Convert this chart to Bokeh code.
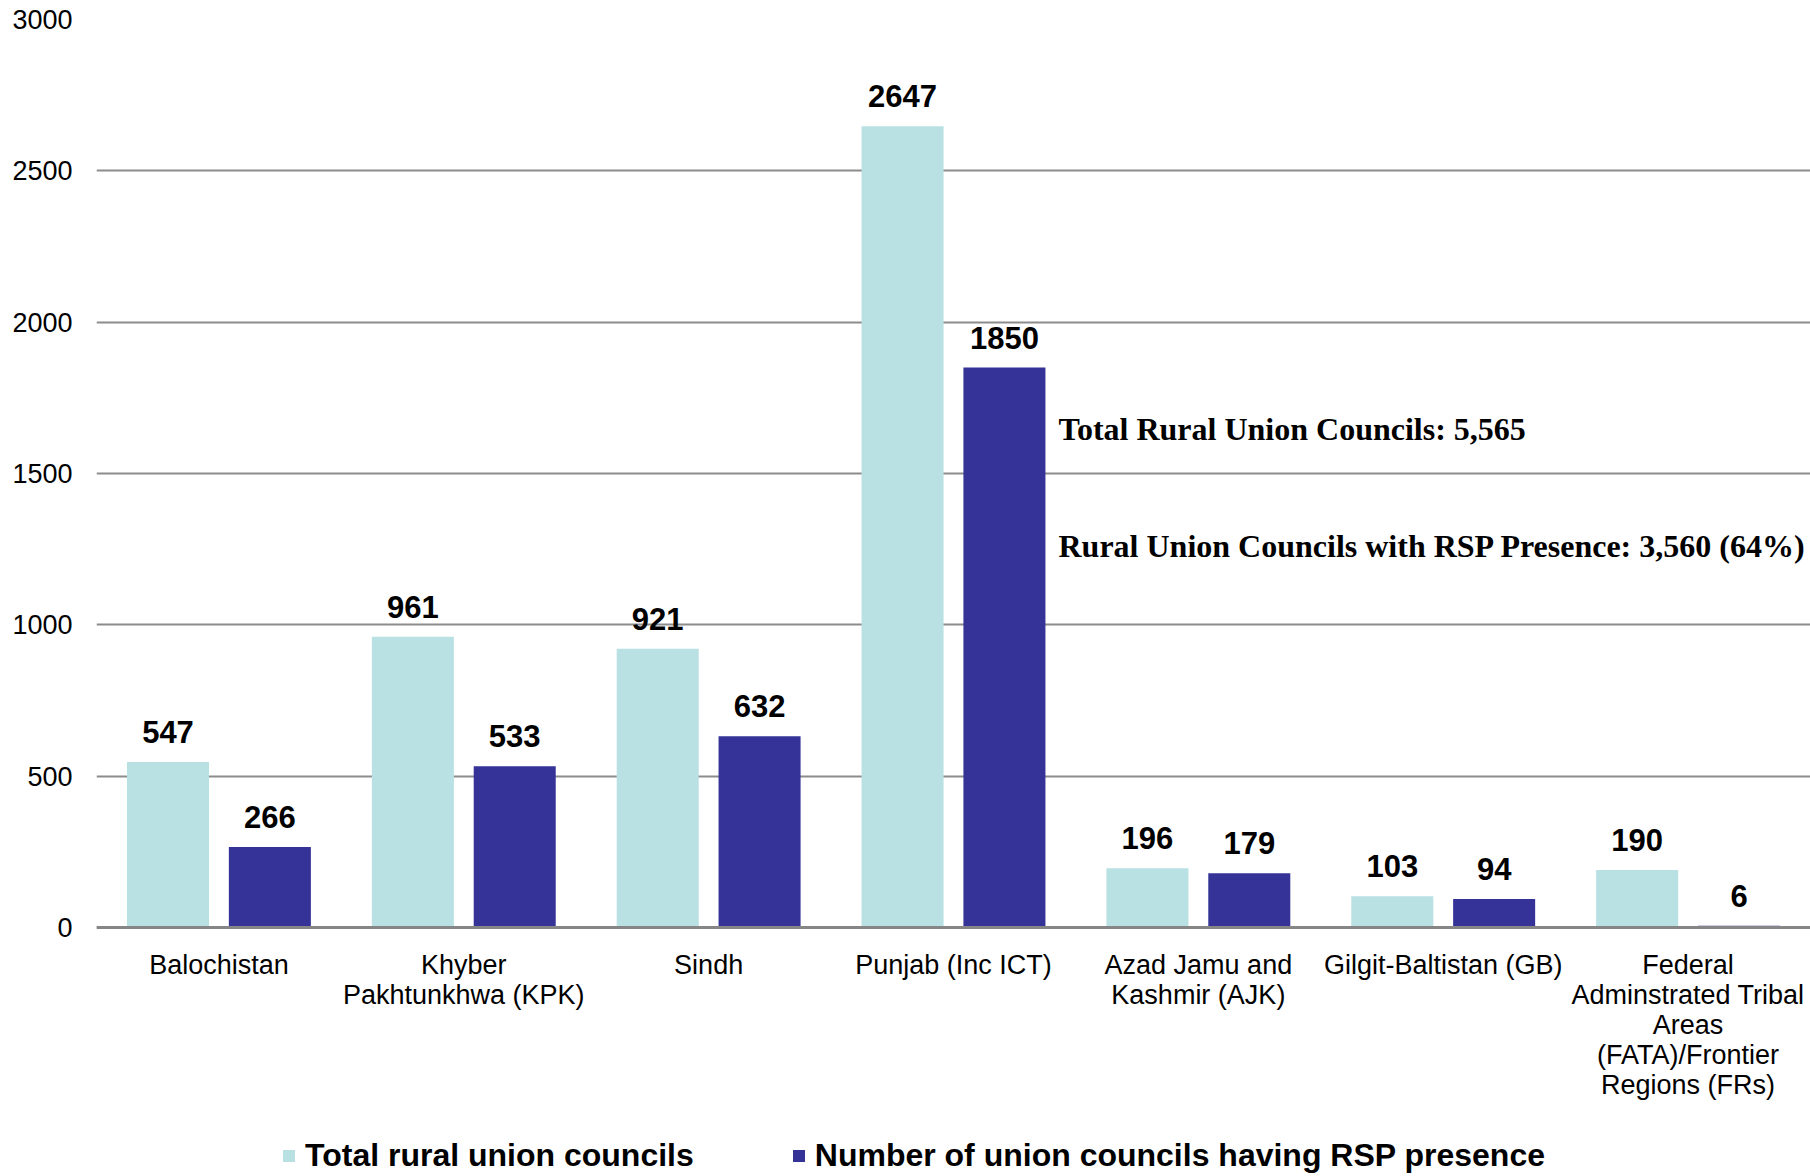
from bokeh.plotting import figure
from bokeh.models import (ColumnDataSource, FactorRange, FixedTicker, Legend, LegendItem,
                          Label, Range1d)
from bokeh.transform import dodge
from bokeh.core.properties import value
from bokeh.embed import file_html
from bokeh.resources import INLINE

categories = [
    "Balochistan",
    "Khyber\nPakhtunkhwa (KPK)",
    "Sindh",
    "Punjab (Inc ICT)",
    "Azad Jamu and\nKashmir (AJK)",
    "Gilgit-Baltistan (GB)",
    "Federal\nAdminstrated Tribal\nAreas\n(FATA)/Frontier\nRegions (FRs)",
]
total_rural = [547, 961, 921, 2647, 196, 103, 190]
rsp_presence = [266, 533, 632, 1850, 179, 94, 6]
series_names = ["Total rural union councils", "Number of union councils having RSP presence"]
y_ticks = [0, 500, 1000, 1500, 2000, 2500, 3000]
note_total = "Total Rural Union Councils: 5,565"
note_rsp = "Rural Union Councils with RSP Presence: 3,560 (64%)"

LIGHT = "#B9E0E2"
DARK = "#353398"

src = ColumnDataSource(dict(
    cat=categories,
    total=total_rural,
    rsp=rsp_presence,
    total_txt=[str(v) for v in total_rural],
    rsp_txt=[str(v) for v in rsp_presence],
))

# frame runs to the page bottom; the value axis spans 908 px for 0..3000,
# the space below zero holds category labels and the legend
px_per_unit = 908 / 3000
y_bottom = -249 / px_per_unit

p = figure(frame_width=1714, frame_height=1157, x_range=FactorRange(*categories),
           y_range=Range1d(y_bottom, 3000), output_backend="svg", toolbar_location=None,
           min_border_left=96, min_border_right=0, min_border_top=19,
           min_border_bottom=0)
p.outline_line_color = None
p.background_fill_color = "white"

off = 0.208
bw = 0.335
r1 = p.vbar(x=dodge("cat", -off, range=p.x_range), top="total", width=bw, source=src,
            fill_color=LIGHT, line_color=None)
r2 = p.vbar(x=dodge("cat", off, range=p.x_range), top="rsp", width=bw, source=src,
            fill_color=DARK, line_color=None)

lab_kw = dict(text_font=value("Liberation Sans"), text_font_style="bold",
              text_font_size="31px", text_align="center", text_baseline="middle",
              text_color="black", y_offset=-30)
p.text(x=dodge("cat", -off, range=p.x_range), y="total", text="total_txt", source=src, **lab_kw)
p.text(x=dodge("cat", off, range=p.x_range), y="rsp", text="rsp_txt", source=src, **lab_kw)

for txt, yv in [(note_total, 1647), (note_rsp, 1260)]:
    p.add_layout(Label(x=962, y=yv, x_units="screen", y_units="data", text=txt,
                       text_font="Liberation Serif", text_font_style="bold",
                       text_font_size="32px", text_baseline="middle", text_color="black"))

# axes
p.yaxis.ticker = FixedTicker(ticks=y_ticks)
p.yaxis.axis_line_color = None
p.yaxis.major_tick_line_color = None
p.yaxis.minor_tick_line_color = None
p.yaxis.major_label_standoff = 18
p.yaxis.major_label_text_font = "Liberation Sans"
p.yaxis.major_label_text_font_size = "27px"
p.yaxis.major_label_text_color = "black"

p.xaxis.fixed_location = 0
p.xaxis.axis_line_color = "#868686"
p.xaxis.axis_line_width = 3
p.xaxis.major_tick_line_color = None
p.xaxis.minor_tick_line_color = None
p.xaxis.major_label_standoff = 16
p.xaxis.major_label_text_font = "Liberation Sans"
p.xaxis.major_label_text_font_size = "27px"
p.xaxis.major_label_text_line_height = 1.0
p.xaxis.major_label_text_color = "black"
p.xaxis.major_label_orientation = "horizontal"

p.xgrid.grid_line_color = None
p.ygrid.ticker = FixedTicker(ticks=y_ticks)
p.ygrid.grid_line_color = "#8C8C8C"
p.ygrid.grid_line_width = 2

legend = Legend(items=[LegendItem(label=series_names[0], renderers=[r1]),
                       LegendItem(label=series_names[1], renderers=[r2])],
                orientation="horizontal", location=(185, 2),
                label_text_font="Liberation Sans", label_text_font_style="bold",
                label_text_font_size="32px", label_text_color="black",
                glyph_width=15, glyph_height=15, label_standoff=9, spacing=97,
                border_line_color=None, background_fill_alpha=0, padding=2, margin=0)
p.add_layout(legend, "center")

open("out.html", "w").write(file_html(p, INLINE))
